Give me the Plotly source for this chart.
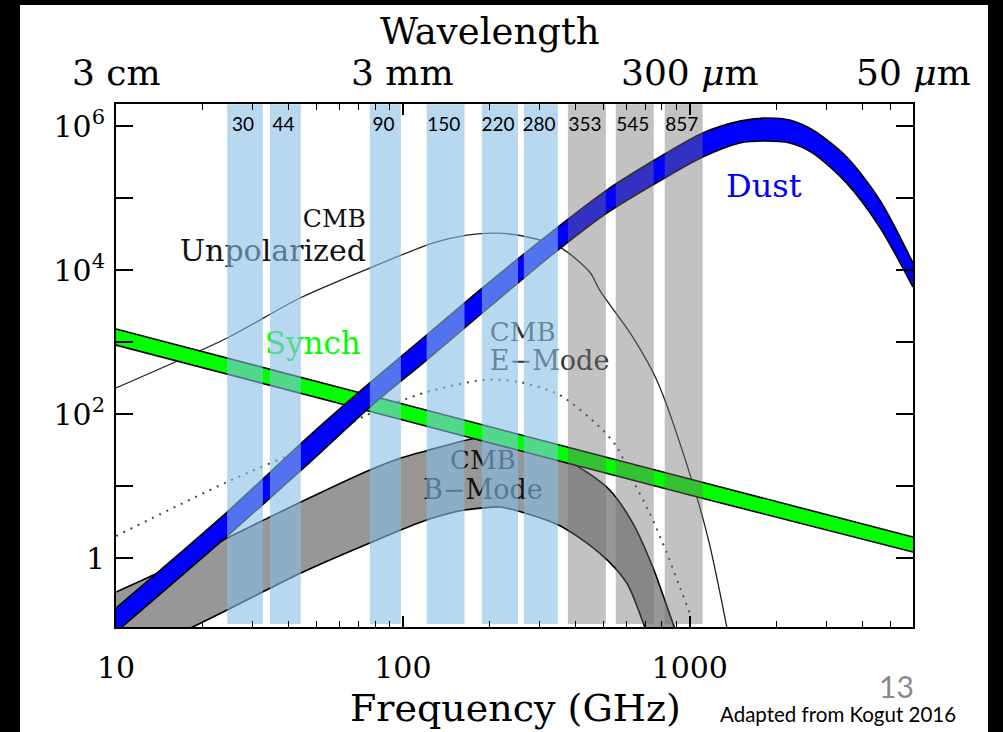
import numpy as np
import plotly.graph_objects as go

# ---------------- data ----------------
# Dust (blue band)
dust_freq = [10, 24.4, 46.3, 76.7, 121, 189, 347, 514, 818, 1110, 1494, 1825, 2231, 2683, 3524, 4592, 6000]
dust_upper = [0.202, 4.35, 46.4, 270, 1250, 5620, 39500, 129000, 408000, 800000, 1170000, 1290000, 1210000, 880000, 371000, 93800, 12500]
dust_lower = [0.094, 2.02, 19.6, 125, 562, 2530, 18950, 61900, 190000, 371000, 581000, 619000, 581000, 422000, 161000, 39500, 5800]

# Synchrotron (green band)
synch_freq = [10, 100, 1000, 6000]
synch_upper = [1517, 138, 12.5, 1.96]
synch_lower = [908, 82.6, 7.5, 1.21]

# CMB unpolarized (thin line)
cmb_freq = [10, 24.4, 43.8, 76.7, 127, 167, 213, 262, 352, 448, 485, 633, 767, 1016, 1170, 1346]
cmb_unpol = [230, 1137, 4083, 10660, 23700, 30600, 32600, 29700, 20800, 9380, 5270, 1172, 297, 12.1, 1.6, 0.11]

# CMB E-mode (dotted line)
emode_freq = [10, 24.4, 46.3, 74.9, 121, 189, 215, 256, 352, 485, 557, 633, 725, 832, 923, 1000]
emode = [2.02, 11.4, 34.8, 97, 202, 297, 300, 278, 184, 66, 34.8, 12.1, 4.2, 1.17, 0.395, 0.172]

# CMB B-mode (gray band)
bup_freq = [10, 14.2, 24.4, 44.1, 76.7, 98.4, 121, 164, 190, 218, 277, 347, 438, 526, 633, 743, 873, 923]
bmode_upper = [0.337, 0.64, 1.90, 6.0, 16.7, 24.5, 31, 43, 48, 46.4, 37, 26, 15.6, 8.8, 3.06, 0.75, 0.125, 0.07]
blo_freq = [10, 18.5, 24.4, 44.1, 76.7, 121, 164, 190, 218, 347, 485, 603, 697, 754]
bmode_lower = [0.033, 0.11, 0.19, 0.62, 1.62, 3.37, 4.64, 4.95, 5.1, 2.9, 1.17, 0.45, 0.11, 0.05]

# Frequency bands (GHz)
band_labels = ["30", "44", "90", "150", "220", "280", "353", "545", "857"]
band_lo = [24.4, 34.4, 76.7, 121, 188.5, 264, 376, 552, 818]
band_hi = [32.5, 44.1, 98.4, 164, 252, 347, 510, 749, 1109]
band_kind = ["blue", "blue", "blue", "blue", "blue", "blue", "gray", "gray", "gray"]

# Axis ticks
x_major = [10, 100, 1000]
x_major_text = ["10", "100", "1000"]
x_minor = [20, 30, 40, 50, 60, 70, 80, 90, 200, 300, 400, 500, 600, 700, 800, 900,
           2000, 3000, 4000, 5000]
y_major = [1, 100, 1e4, 1e6]
y_major_text = ["1", "10<sup>2</sup>", "10<sup>4</sup>", "10<sup>6</sup>"]
y_minor = [10, 1e3, 1e5]
wl_freq = [10, 100, 1000, 6000]
wl_text = ["3 cm", "3 mm", "300 <i>μ</i>m", "50 <i>μ</i>m"]

SERIF = "DejaVu Serif"
X_RANGE = [1, np.log10(6000)]
Y_RANGE = [-0.958, 6.306]

fig = go.Figure()

def band(fig, x_lo, y_lo, x_hi, y_hi, fill, width=1.6):
    fig.add_trace(go.Scatter(x=x_lo, y=y_lo, mode="lines",
                             line=dict(color="black", width=width, shape="spline", smoothing=0.8),
                             hoverinfo="skip"))
    fig.add_trace(go.Scatter(x=x_hi, y=y_hi, mode="lines", fill="tonexty", fillcolor=fill,
                             line=dict(color="black", width=width, shape="spline", smoothing=0.8),
                             hoverinfo="skip"))

# B-mode band
band(fig, blo_freq, bmode_lower, bup_freq, bmode_upper, "#979797")

# E-mode dotted
fig.add_trace(go.Scatter(x=emode_freq, y=emode, mode="lines",
                         line=dict(color="#444444", width=2, dash="2px,6px", shape="spline", smoothing=0.8),
                         hoverinfo="skip"))
# CMB unpolarized
fig.add_trace(go.Scatter(x=cmb_freq, y=cmb_unpol, mode="lines",
                         line=dict(color="#222222", width=1.3, shape="spline", smoothing=0.8),
                         hoverinfo="skip"))
# Synchrotron
band(fig, synch_freq, synch_lower, synch_freq, synch_upper, "#00ff00")
# Dust
band(fig, dust_freq, dust_lower, dust_freq, dust_upper, "#0000ff")

# Curve labels (as traces so the frequency bands tint them)
def label(x, y, text, color, pos, size=27):
    fig.add_trace(go.Scatter(x=[x], y=[y], mode="text", text=[text], textposition=pos,
                             textfont=dict(family=SERIF, size=size, color=color),
                             hoverinfo="skip", cliponaxis=False))

label(74.3, 48000, "CMB", "#111111", "middle left", 25)
label(74.3, 17000, "Unpolarized", "#111111", "middle left", 30)
label(48.5, 880, "Synch", "#00ff00", "middle center", 31)
label(1811, 133000, "Dust", "#0000ff", "middle center", 32)
label(201, 1292, "CMB", "#333333", "middle right", 26)
label(201, 511, "E\u2212Mode", "#333333", "middle right", 27)
label(190, 21.5, "CMB", "#111111", "middle center", 26)
label(190, 8.26, "B\u2212Mode", "#111111", "middle center", 27)

# Frequency bands (semi-transparent overlays)
band_colors = {"blue": "rgba(137,190,230,0.6)", "gray": "rgba(116,114,116,0.43)"}
y_bot, y_top = 0.121, 2.0e6
for lo, hi, kind in zip(band_lo, band_hi, band_kind):
    fig.add_trace(go.Scatter(x=[lo, hi, hi, lo, lo], y=[y_bot, y_bot, y_top, y_top, y_bot],
                             mode="lines", fill="toself", fillcolor=band_colors[kind],
                             line=dict(width=0), hoverinfo="skip"))

centers = [np.sqrt(a * b) * 0.985 for a, b in zip(band_lo, band_hi)]
fig.add_trace(go.Scatter(x=centers, y=[1e6] * len(centers), mode="text", text=band_labels,
                         textposition="middle center",
                         textfont=dict(family="Lato", size=19, color="black"),
                         hoverinfo="skip", cliponaxis=False))

# ---------------- layout ----------------
W, H = 1003, 732
L, R, T, B = 116, 90, 104, 105
pw, ph = W - L - R, H - T - B

def px(xp):
    return (xp - L) / pw

def py(yp):
    return (H - B - yp) / ph

annotations = []
for f, t in zip(wl_freq, wl_text):
    annotations.append(dict(x=np.log10(f), xref="x", y=py(72), yref="paper", text=t,
                            showarrow=False, xanchor="center", yanchor="middle",
                            font=dict(family=SERIF, size=36, color="black")))
annotations += [
    dict(x=px(490), y=py(32), xref="paper", yref="paper", text="Wavelength", showarrow=False,
         xanchor="center", yanchor="middle", font=dict(family=SERIF, size=37, color="black")),
    dict(x=px(515), y=py(708), xref="paper", yref="paper", text="Frequency (GHz)", showarrow=False,
         xanchor="center", yanchor="middle", font=dict(family=SERIF, size=38, color="black")),
    dict(x=px(896), y=py(686), xref="paper", yref="paper", text="13", showarrow=False,
         xanchor="center", yanchor="middle", font=dict(family="Lato", size=30, color="#8a8a8a")),
    dict(x=px(838), y=py(714), xref="paper", yref="paper", text="Adapted from Kogut 2016",
         showarrow=False, xanchor="center", yanchor="middle",
         font=dict(family="Lato", size=20.5, color="black")),
]

shapes = [dict(type="rect", xref="paper", yref="paper", x0=px(20), x1=px(988), y0=py(760), y1=py(5),
               fillcolor="white", line=dict(width=0), layer="below")]

fig.update_layout(
    width=W, height=H, autosize=False,
    margin=dict(l=L, r=R, t=T, b=B, pad=0),
    paper_bgcolor="black", plot_bgcolor="white",
    showlegend=False,
    annotations=annotations, shapes=shapes,
    xaxis=dict(type="log", range=X_RANGE, tickmode="array", tickvals=x_major, ticktext=x_major_text,
               ticks="inside", ticklen=11, tickwidth=1.5, tickcolor="black",
               showline=True, linecolor="black", linewidth=2, mirror="allticks",
               showgrid=False, zeroline=False, ticklabelstandoff=13,
               tickfont=dict(family=SERIF, size=30, color="black"),
               minor=dict(tickmode="array", tickvals=x_minor, ticks="inside", ticklen=6,
                          tickwidth=1.2, tickcolor="black", showgrid=False)),
    yaxis=dict(type="log", range=Y_RANGE, tickmode="array", tickvals=y_major, ticktext=y_major_text,
               ticks="inside", ticklen=17, tickwidth=1.5, tickcolor="black",
               showline=True, linecolor="black", linewidth=2, mirror="allticks",
               showgrid=False, zeroline=False, ticklabelstandoff=3,
               tickfont=dict(family=SERIF, size=30, color="black"),
               minor=dict(tickmode="array", tickvals=y_minor, ticks="inside", ticklen=17,
                          tickwidth=1.5, tickcolor="black", showgrid=False)),
)

fig.write_html("out.html", config={"displayModeBar": False},
               post_script="document.body.style.margin='0px';")
